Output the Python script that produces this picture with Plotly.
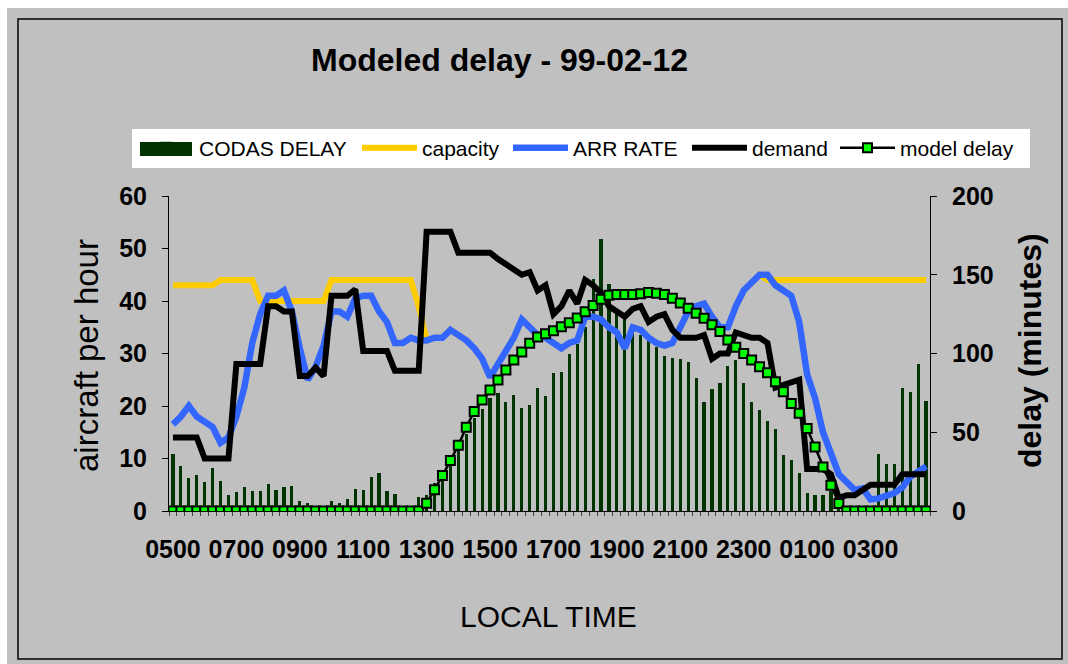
import plotly.graph_objects as go

W, H = 1068, 664
L, R, T, B = 169, 138, 196, 153
PW = W - L - R
PH = H - T - B


def px(x):
    return (x - L) / PW


def py(y):
    return (H - B - y) / PH


# 15-minute categories starting 0500
categories = []
for i in range(96):
    m = 5 * 60 + 15 * i
    categories.append(f"{(m // 60) % 24:02d}{m % 60:02d}")
tick_labels = ["0500", "0700", "0900", "1100", "1300", "1500",
               "1700", "1900", "2100", "2300", "0100", "0300"]

codas_delay = [36, 28.5, 21, 23, 18.3, 27.4, 19.3, 10.3, 12.3, 15.2,
               13, 12.6, 17.1, 13.5, 15.2, 16, 6.2, 5.2, 1, 1,
               6.2, 5.4, 7.4, 13.9, 13.6, 21.6, 24.4, 12.6, 11, 2,
               2, 9, 10, 18, 24, 31, 40, 49, 59, 65,
               72, 75, 69.4, 73.6, 65.1, 67.2, 77.8, 73, 87.8, 88.2,
               99.7, 106, 117, 147, 173, 144, 128, 122, 116, 112,
               108, 104, 98.4, 97, 96.7, 94.8, 84.2, 69.4, 77.2, 81,
               92.3, 96, 81.4, 69.5, 64, 57, 52.2, 35.8, 32.7, 24,
               11.7, 10, 10, 13, 2, 0, 0, 0, 0, 36,
               29.6, 29.6, 77.8, 75.7, 93.3, 70]

capacity = [43, 43, 43, 43, 43, 43, 44, 44, 44, 44,
            44, 40, 40, 40, 40, 40, 40, 40, 40, 40,
            44, 44, 44, 44, 44, 44, 44, 44, 44, 44,
            44, 39, 32.5, 33, 33, 34.5, 33.5, 32.5, 31, 29,
            25.5, 28, 31, 33, 36.5, 35, 33.5, 33, 32, 31,
            32, 32.5, 37, 37, 36.5, 35, 34, 31, 35, 34.5,
            33, 32, 31.5, 32, 35, 38, 39, 39.5, 37, 35,
            35, 39, 42, 43.5, 45, 44, 44, 44, 44, 44,
            44, 44, 44, 44, 44, 44, 44, 44, 44, 44,
            44, 44, 44, 44, 44, 44]

arr_rate = [16.5, 18, 20, 18, 17, 16, 13, 14, 18, 23.5,
            32, 37.5, 41, 41, 42, 38, 31, 25, 27.5, 31.5,
            38, 38, 37, 40.5, 41, 41, 38, 36, 32, 32,
            33, 32.5, 32.5, 33, 33, 34.5, 33.5, 32.5, 31, 29,
            25.5, 28, 31, 33, 36.5, 35, 33.5, 33, 32, 31,
            32, 32.5, 37, 37, 36.5, 35, 34, 31, 35, 34.5,
            33, 32, 31.5, 32, 35, 38, 39, 39.5, 37, 35,
            35, 39, 42, 43.5, 45, 45, 43, 42, 41, 36,
            26, 21.5, 15, 11, 7, 5.5, 4, 4.3, 2.2, 2.4,
            3, 3.4, 4.5, 6.5, 7.5, 8.5]

demand = [14, 14, 14, 14, 10, 10, 10, 10, 28, 28,
          28, 28, 39, 39, 38, 38, 25.7, 25.7, 27.3, 25.7,
          41, 41, 41, 42.2, 30.5, 30.5, 30.5, 30.5, 26.7, 26.7,
          26.7, 26.7, 53.2, 53.2, 53.2, 53.2, 49.2, 49.2, 49.2, 49.2,
          49.2, 48, 47, 46, 45, 45.5, 42, 43, 37.5, 39,
          42, 39.5, 44, 43, 41.5, 39, 38, 37, 38.5, 39,
          36, 37, 37.5, 34.5, 33, 33, 33, 33.5, 29, 30,
          30, 34, 33.5, 33, 33, 32, 23.5, 24, 24.5, 25,
          8, 8, 8, 7, 2.5, 3, 3, 4, 5, 5,
          5, 5, 7, 7, 7, 7]

model_delay = [0, 0, 0, 0, 0, 0, 0, 0, 0, 0,
               0, 0, 0, 0, 0, 0, 0, 0, 0, 0,
               0, 0, 0, 0, 0, 0, 0, 0, 0, 0,
               0, 0, 5, 13.5, 22.5, 32, 41.7, 53.2, 63.2, 70.4,
               76.8, 83.2, 89.5, 95.9, 101, 106.5, 110.5, 112.5, 114.5, 117,
               119.5, 122.5, 126.5, 130.5, 134.5, 137, 137.5, 137.5, 137.5, 138,
               138.7, 138.3, 137.5, 135.1, 132, 128.8, 125.6, 122.4, 118.2, 113.9,
               108.6, 104, 100, 95.9, 91.6, 87.8, 82.1, 75.7, 68.3, 62,
               52.4, 40.7, 28, 16.4, 4.7, 0, 0, 0, 0, 0,
               0, 0, 0, 0, 0, 0]

FONT = "Liberation Sans, Arial, sans-serif"
BAR_COLOR = "#003300"
ticktext = [c if (i % 8 == 0 and c in tick_labels) else "" for i, c in enumerate(categories)]

fig = go.Figure()
fig.add_trace(go.Bar(x=categories, y=codas_delay, name="CODAS DELAY",
                     marker=dict(color=BAR_COLOR, line=dict(width=0)),
                     width=0.4, yaxis="y", legend="legend"))
fig.add_trace(go.Scatter(x=categories, y=capacity, name="capacity", mode="lines",
                         line=dict(color="#FFCC00", width=6), yaxis="y2", legend="legend2"))
fig.add_trace(go.Scatter(x=categories, y=arr_rate, name="ARR RATE", mode="lines",
                         line=dict(color="#3366FF", width=6.5), yaxis="y2", legend="legend3"))
fig.add_trace(go.Scatter(x=categories, y=demand, name="demand", mode="lines",
                         line=dict(color="#000000", width=6), yaxis="y2", legend="legend4"))
fig.add_trace(go.Scatter(x=categories, y=model_delay, name="model delay",
                         mode="lines+markers",
                         line=dict(color="#000000", width=2.5),
                         marker=dict(symbol="square", size=9, color="#00FF00",
                                     line=dict(color="#000000", width=2)),
                         yaxis="y3", legend="legend5"))

axis_common = dict(showgrid=False, zeroline=False, showline=True, linecolor="#000000",
                   linewidth=1, ticks="outside", ticklen=6, tickcolor="#000000",
                   tickfont=dict(family=FONT, size=25, color="#000000", weight="bold"))

ITEMW = 55


def leg(text_x):
    return dict(orientation="h", x=px(text_x - ITEMW - 10), xanchor="left", y=py(148),
                yanchor="middle", itemwidth=ITEMW,
                bgcolor="rgba(255,255,255,0)", borderwidth=0,
                font=dict(family=FONT, size=21, color="#000000"))


fig.update_layout(
    width=W, height=H, autosize=False,
    margin=dict(l=L, r=R, t=T, b=B, pad=0),
    paper_bgcolor="#C0C0C0", plot_bgcolor="#C0C0C0",
    showlegend=True,
    bargap=0,
    xaxis=dict(type="category", tickmode="array", tickvals=categories, ticktext=ticktext,
               tickson="boundaries", ticks="outside", ticklen=4, tickcolor="#404040",
               tickangle=0,
               showline=True, linecolor="#000000", linewidth=1, showgrid=False,
               range=[-0.5, 95.5], ticklabelstandoff=16,
               tickfont=dict(family=FONT, size=25, color="#000000", weight="bold")),
    yaxis=dict(range=[0, 200], side="right", tickmode="array",
               tickvals=[0, 50, 100, 150, 200], anchor="x", ticklabelstandoff=10,
               **axis_common),
    yaxis2=dict(range=[0, 60], side="left", overlaying="y", tickmode="array",
                tickvals=[0, 10, 20, 30, 40, 50, 60], anchor="x", ticklabelstandoff=10,
                **axis_common),
    yaxis3=dict(range=[0, 200], overlaying="y", visible=False, anchor="x"),
    legend=leg(199),
    legend2=leg(422),
    legend3=leg(573),
    legend4=leg(752),
    legend5=leg(900),
    font=dict(family=FONT, color="#000000"),
    shapes=[
        dict(type="rect", xref="paper", yref="paper", x0=px(-5), x1=px(7), y0=py(-5), y1=py(670),
             fillcolor="#FFFFFF", line=dict(width=0), layer="below"),
        dict(type="rect", xref="paper", yref="paper", x0=px(-5), x1=px(1075), y0=py(-5), y1=py(8),
             fillcolor="#FFFFFF", line=dict(width=0), layer="below"),
        dict(type="rect", xref="paper", yref="paper", x0=px(18), x1=px(1062), y0=py(19), y1=py(659),
             fillcolor="rgba(0,0,0,0)", line=dict(color="#000000", width=1.5), layer="below"),
        # legend box and the wide swatch for the bar series
        dict(type="rect", xref="paper", yref="paper", x0=px(132), x1=px(1030), y0=py(129), y1=py(168),
             fillcolor="#FFFFFF", line=dict(width=0), layer="below"),
        dict(type="rect", xref="paper", yref="paper", x0=px(140), x1=px(192), y0=py(142), y1=py(156),
             fillcolor=BAR_COLOR, line=dict(width=0), layer="above"),
    ],
    annotations=[
        dict(text="<b>Modeled delay - 99-02-12</b>", xref="paper", yref="paper",
             x=px(499), y=py(60), xanchor="center", yanchor="middle", showarrow=False,
             font=dict(family=FONT, size=32, color="#000000")),
        dict(text="aircraft per hour", xref="paper", yref="paper", textangle=-90,
             x=px(86), y=py(356), xanchor="center", yanchor="middle", showarrow=False,
             font=dict(family=FONT, size=33, color="#000000")),
        dict(text="<b>delay (minutes)</b>", xref="paper", yref="paper", textangle=-90,
             x=px(1030), y=py(351), xanchor="center", yanchor="middle", showarrow=False,
             font=dict(family=FONT, size=32, color="#000000")),
        dict(text="LOCAL TIME", xref="paper", yref="paper",
             x=px(548), y=py(616), xanchor="center", yanchor="middle", showarrow=False,
             font=dict(family=FONT, size=30, color="#000000")),
    ],
)

fig.write_html("out.html")
